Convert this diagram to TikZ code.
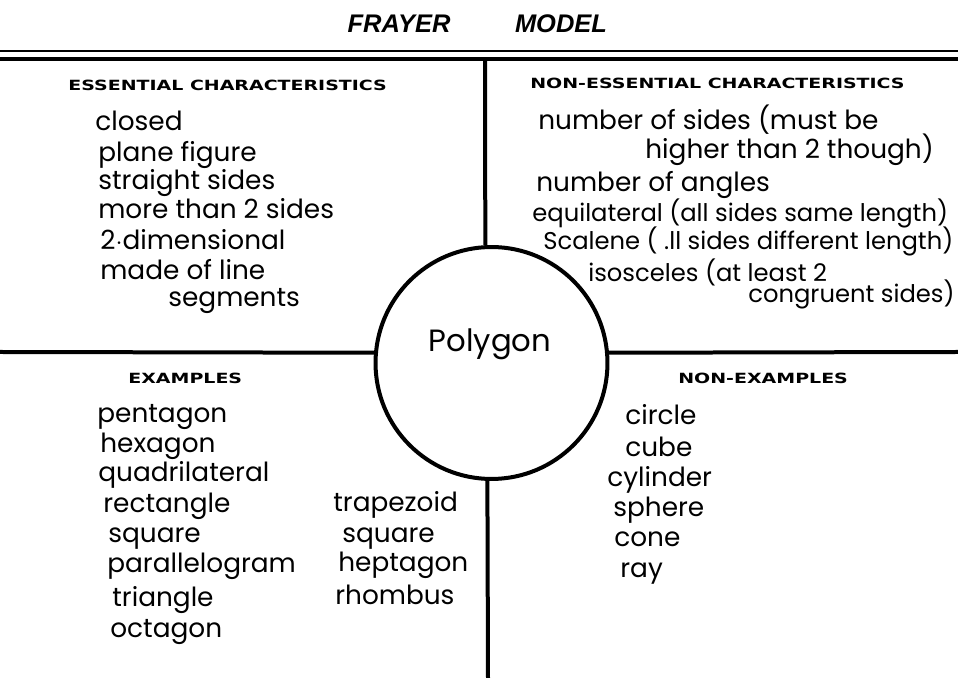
\documentclass[tikz,border=0pt]{standalone}
\usepackage{fontspec}
\usepackage{graphicx}
\setmainfont{Poppins}
\newfontfamily\hdrfont{DejaVu Sans}
\newfontfamily\ttlfont{Liberation Sans}

\begin{document}
\begin{tikzpicture}[
    x=0.02cm, y=-0.02cm,
    % Estilos: texto a mano, cabeceras y titulo
    hand/.style={anchor=base west, inner sep=0pt, font=\fontsize{15}{18}\selectfont},
    handsmall/.style={hand, font=\fontsize{13.8}{16}\selectfont},
    hdr/.style={anchor=base west, inner sep=0pt, font=\hdrfont\bfseries\fontsize{8}{9}\selectfont},
    ttl/.style={anchor=base, inner sep=0pt, font=\ttlfont\bfseries\itshape\fontsize{14.5}{16}\selectfont},
    frame/.style={line width=0.08cm},
    thinframe/.style={line width=0.04cm}
]
\useasboundingbox (0,0) rectangle (958,678);

% ---------------------------------------------------------
% 1. TITULO Y MARCO
% ---------------------------------------------------------
\node[ttl] (frayer) at (399,33) {FRAYER};
\node[ttl] (model) at (561,33) {MODEL};

\coordinate (topL) at (0,51);
\coordinate (topR) at (958,51);
\coordinate (barL) at (0,59);
\coordinate (barR) at (958,59);
\coordinate (barM) at (485,59);
\coordinate (midL) at (0,352);
\coordinate (midR) at (958,352);
\coordinate (botM) at (488,678);

\draw[thinframe] (topL) -- (topR);
\draw[frame] (barL) -- (barR);

% Circulo central
\node[draw, circle, frame, minimum size=4.64cm, inner sep=0pt] (poly) at (491.5,363) {};
\node[hand, anchor=base, font=\fontsize{17.5}{20}\selectfont] (polylbl) at (490,352) {Polygon};

\draw[frame] (barM) -- (poly.93);
\draw[frame] (midL) -- (poly.175);
\draw[frame] (poly.5) -- (midR);
\draw[frame] (poly.268) -- (botM);

% ---------------------------------------------------------
% 2. CUADRANTES
% ---------------------------------------------------------
% --- Caracteristicas esenciales ---
\node[hdr] (esshdr) at (68,91) {\scalebox{1.35}[1]{ESSENTIAL CHARACTERISTICS}};
\node[hand] (closed) at (95,131) {closed};
\node[hand] (plane) at (98,162) {plane figure};
\node[hand] (straight) at (98,190) {straight sides};
\node[hand] (morethan) at (98,219) {more than 2 sides};
\node[hand] (twodim) at (100,250) {2$\cdot$dimensional};
\node[hand] (madeof) at (100,280) {made of line};
\node[hand] (segments) at (168,307) {segments};

% --- Caracteristicas no esenciales ---
\node[hdr] (nonesshdr) at (530,89) {\scalebox{1.35}[1]{NON-ESSENTIAL CHARACTERISTICS}};
\node[hand] (numsides) at (538,130) {number of sides (must be};
\node[hand] (higher) at (645,159) {higher than 2 though)};
\node[hand] (numangles) at (536,192) {number of angles};
\node[handsmall] (equil) at (532,222) {equilateral (all sides same length)};
\node[handsmall] (scalene) at (543,250) {Scalene ( .ll sides different length)};
\node[handsmall] (isosc) at (588,282) {isosceles (at least 2};
\node[handsmall] (congr) at (748,303) {congruent sides)};

% --- Ejemplos ---
\node[hdr] (exhdr) at (128,384) {\scalebox{1.35}[1]{EXAMPLES}};
\node[hand] (pentagon) at (97,423) {pentagon};
\node[hand] (hexagon) at (100,453) {hexagon};
\node[hand] (quadri) at (98,482) {quadrilateral};
\node[hand] (rectangle) at (103,513) {rectangle};
\node[hand] (squareA) at (108,543) {square};
\node[hand] (parallel) at (107,573) {parallelogram};
\node[hand] (triangle) at (112,607) {triangle};
\node[hand] (octagon) at (110,638) {octagon};
\node[hand] (trapezoid) at (333,512) {trapezoid};
\node[hand] (squareB) at (342,543) {square};
\node[hand] (heptagon) at (338,572) {heptagon};
\node[hand] (rhombus) at (335,605) {rhombus};

% --- No ejemplos ---
\node[hdr] (nonexhdr) at (678,384) {\scalebox{1.35}[1]{NON-EXAMPLES}};
\node[hand] (circle) at (625,425) {circle};
\node[hand] (cube) at (625,457) {cube};
\node[hand] (cylinder) at (607,487) {cylinder};
\node[hand] (sphere) at (613,517) {sphere};
\node[hand] (cone) at (614,547) {cone};
\node[hand] (ray) at (620,578) {ray};

\end{tikzpicture}
\end{document}
